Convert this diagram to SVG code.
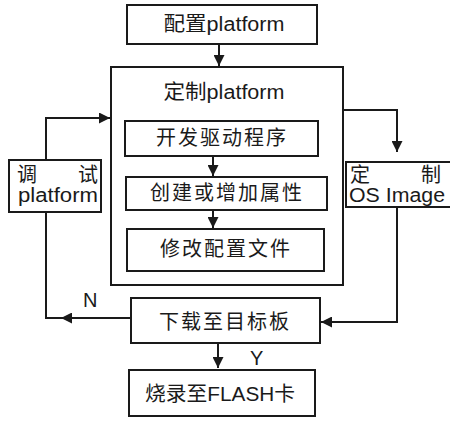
<svg xmlns="http://www.w3.org/2000/svg" width="450" height="421" viewBox="0 0 450 421">
  <style>
    .box { fill: #fff; stroke: #1a1a1a; stroke-width: 2; }
    .line { fill: none; stroke: #1a1a1a; stroke-width: 2; }
    text { font-family: "Liberation Sans", "Noto Sans CJK SC", sans-serif; fill: #1a1a1a; }
    .t { font-size: 20px; text-anchor: middle; }
    .s { font-size: 20px; }
  </style>
  <defs>
    <marker id="arrow" viewBox="0 0 10 10" refX="10" refY="5" markerWidth="11" markerHeight="11" markerUnits="userSpaceOnUse" orient="auto">
      <path d="M0,0 L10,5 L0,10 Z" fill="#1a1a1a"/>
    </marker>
  </defs>
  <rect width="450" height="421" fill="#fff"/>

  <g id="config">
    <rect class="box" x="127" y="5" width="190" height="39"/>
    <text class="t" x="224" y="31" textLength="121" lengthAdjust="spacingAndGlyphs">配置platform</text>
  </g>

  <g id="custom-platform">
    <rect class="box" x="111" y="67" width="232" height="218"/>
    <text class="t" x="224" y="99" textLength="121" lengthAdjust="spacingAndGlyphs">定制platform</text>
  </g>

  <g id="driver">
    <rect class="box" x="125" y="121" width="193" height="35"/>
    <text class="t" x="222" y="145" letter-spacing="2">开发驱动程序</text>
  </g>

  <g id="attributes">
    <rect class="box" x="126" y="177" width="201" height="33"/>
    <text class="t" x="227" y="200" letter-spacing="2">创建或增加属性</text>
  </g>

  <g id="modify">
    <rect class="box" x="127" y="229" width="197" height="42"/>
    <text class="t" x="226" y="256" letter-spacing="2">修改配置文件</text>
  </g>

  <g id="debug">
    <rect class="box" x="9" y="160" width="92" height="52"/>
    <text class="s" x="17" y="182">调</text>
    <text class="s" x="78" y="182">试</text>
    <text class="s" x="18" y="202" textLength="80" lengthAdjust="spacingAndGlyphs">platform</text>
  </g>

  <g id="os-image">
    <rect class="box" x="346" y="162" width="110" height="45"/>
    <text class="s" x="350" y="182">定</text>
    <text class="s" x="421" y="182">制</text>
    <text class="s" x="349" y="202" textLength="96" lengthAdjust="spacingAndGlyphs">OS Image</text>
  </g>

  <g id="download">
    <rect class="box" x="131" y="298" width="189" height="45"/>
    <text class="t" x="225" y="329" letter-spacing="2">下载至目标板</text>
  </g>

  <g id="flash">
    <rect class="box" x="129" y="370" width="186" height="46"/>
    <text class="t" x="220" y="401" textLength="150" lengthAdjust="spacingAndGlyphs">烧录至FLASH卡</text>
  </g>

  <!-- connectors -->
  <g id="connectors">
    <line class="line" x1="219" y1="44" x2="219" y2="66" marker-end="url(#arrow)"/>
    <line class="line" x1="213" y1="156" x2="213" y2="176" marker-end="url(#arrow)"/>
    <line class="line" x1="213" y1="210" x2="213" y2="228" marker-end="url(#arrow)"/>
    <!-- debug loop: 调试 -> 定制platform -->
    <polyline class="line" points="46,159 46,118 110,118" marker-end="url(#arrow)"/>
    <!-- N branch: 下载 -> 调试 -->
    <line class="line" x1="130" y1="318" x2="61" y2="318" marker-end="url(#arrow)"/>
    <polyline class="line" points="62,318 46,318 46,213"/>
    <!-- 定制platform -> 定制OS Image -->
    <polyline class="line" points="344,110 397,110 397,152" marker-end="url(#arrow)"/>
    <!-- OS Image -> 下载 -->
    <polyline class="line" points="397,208 397,322 321,322" marker-end="url(#arrow)"/>
    <!-- Y branch -->
    <line class="line" x1="218" y1="344" x2="218" y2="368" marker-end="url(#arrow)"/>
    <text class="s" x="83" y="307">N</text>
    <text class="s" x="250" y="365">Y</text>
  </g>
</svg>
